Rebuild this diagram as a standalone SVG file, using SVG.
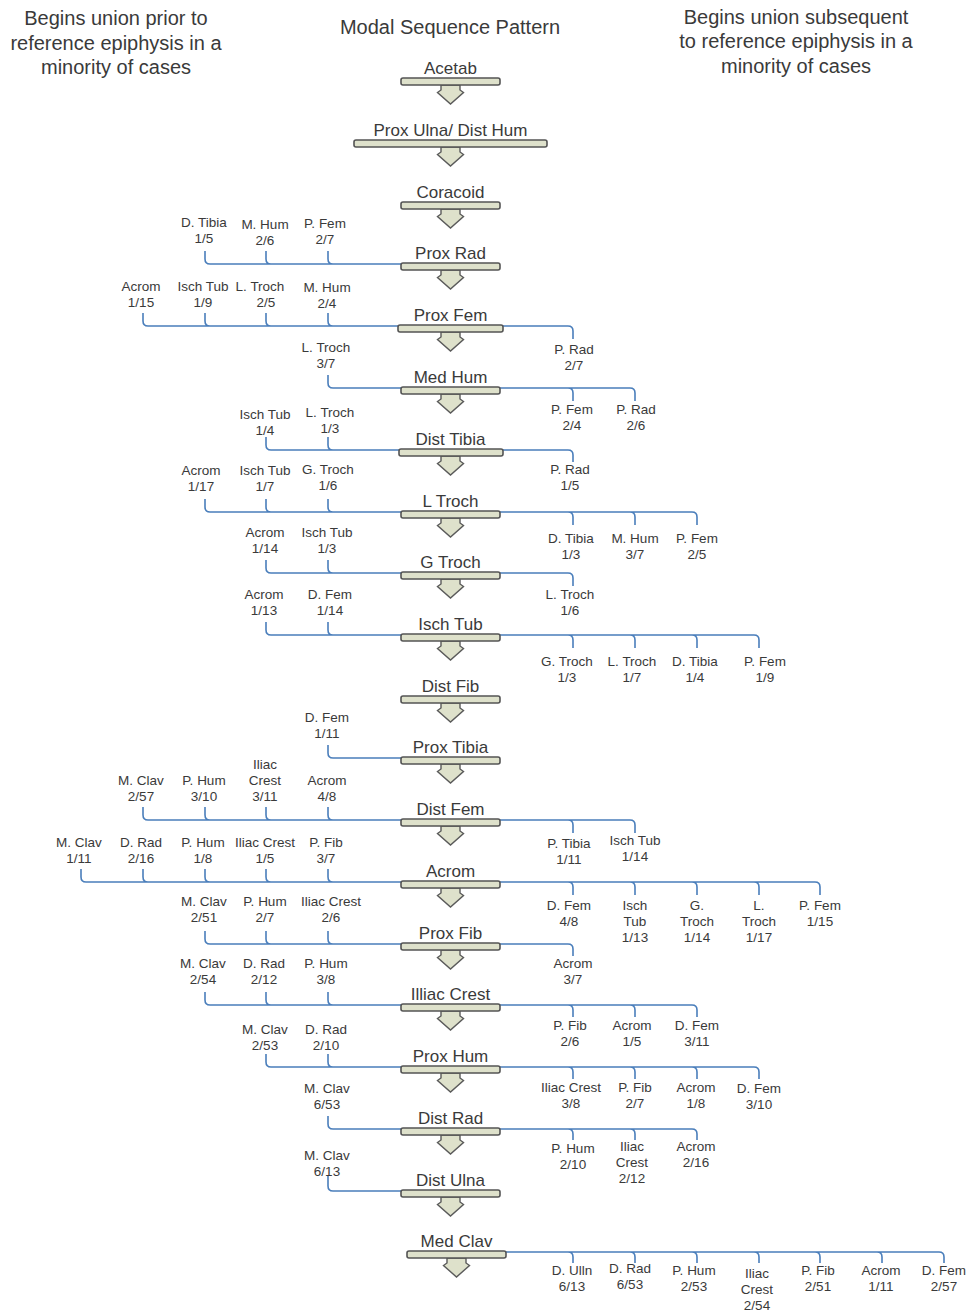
<svg xmlns="http://www.w3.org/2000/svg" xmlns:xlink="http://www.w3.org/1999/xlink" width="968" height="1313" viewBox="0 0 968 1313">
<style>
text{font-family:"Liberation Sans",Arial,sans-serif;fill:#3a3a3a;text-anchor:middle}
.hd{font-size:20px}
.nl{font-size:17px}
.lb{font-size:13.5px}
.bar{fill:#dee1cb;stroke:#545454;stroke-width:1.6}
.arr{fill:#dee1cb;stroke:#5a5a5a;stroke-width:1.4;stroke-linejoin:miter}
.cn path{fill:none;stroke:#4a7ebb;stroke-width:1.6}
</style>
<defs>
<path id="arr" class="arr" d="M-9.5,7 V12 L-13,14.5 L0,26 L13,14.5 L9.5,12 V7 Z"/>
</defs>
<rect width="968" height="1313" fill="#fff"/>
<g id="headers">
<text class="hd" x="116" y="25">Begins union prior to<tspan x="116" dy="25">reference epiphysis in a</tspan><tspan x="116" dy="24">minority of cases</tspan></text>
<text class="hd" x="450" y="34">Modal Sequence Pattern</text>
<text class="hd" x="796" y="24">Begins union subsequent<tspan x="796" dy="24">to reference epiphysis in a</tspan><tspan x="796" dy="25">minority of cases</tspan></text>
</g>
<g id="connectors" class="cn">
<path d="M205,251V259Q205,264 210,264H401M266,251V259Q266,264 271,264M328,251V259Q328,264 333,264"/>
<path d="M143,313V321Q143,326 148,326H398M205,313V321Q205,326 210,326M266,313V321Q266,326 271,326M328,313V321Q328,326 333,326M503,326H568Q573,326 573,331V339"/>
<path d="M328,375V383Q328,388 333,388H401M500,388H630Q635,388 635,393V401M568,388Q573,388 573,393V401"/>
<path d="M266,437V445Q266,450 271,450H399M328,437V445Q328,450 333,450M503,450H568Q573,450 573,455V462"/>
<path d="M205,499V507Q205,512 210,512H401M266,499V507Q266,512 271,512M328,499V507Q328,512 333,512M500,512H692Q697,512 697,517V525M568,512Q573,512 573,517V525M630,512Q635,512 635,517V525"/>
<path d="M266,560V568Q266,573 271,573H401M328,560V568Q328,573 333,573M500,573H568Q573,573 573,578V586"/>
<path d="M266,622V630Q266,635 271,635H401M328,622V630Q328,635 333,635M500,635H754Q759,635 759,640V648M568,635Q573,635 573,640V648M630,635Q635,635 635,640V648M692,635Q697,635 697,640V648"/>
<path d="M328,745V753Q328,758 333,758H401"/>
<path d="M143,807V815Q143,820 148,820H401M205,807V815Q205,820 210,820M266,807V815Q266,820 271,820M328,807V815Q328,820 333,820M500,820H630Q635,820 635,825V833M568,820Q573,820 573,825V833"/>
<path d="M81,869V877Q81,882 86,882H401M143,869V877Q143,882 148,882M205,869V877Q205,882 210,882M266,869V877Q266,882 271,882M328,869V877Q328,882 333,882M500,882H815Q820,882 820,887V895M568,882Q573,882 573,887V895M630,882Q635,882 635,887V895M692,882Q697,882 697,887V895M754,882Q759,882 759,887V895"/>
<path d="M205,931V939Q205,944 210,944H401M266,931V939Q266,944 271,944M328,931V939Q328,944 333,944M500,944H568Q573,944 573,949V956"/>
<path d="M205,992V1000Q205,1005 210,1005H401M266,992V1000Q266,1005 271,1005M328,992V1000Q328,1005 333,1005M500,1005H692Q697,1005 697,1010V1017M568,1005Q573,1005 573,1010V1017M630,1005Q635,1005 635,1010V1017"/>
<path d="M266,1054V1062Q266,1067 271,1067H401M328,1054V1062Q328,1067 333,1067M500,1067H754Q759,1067 759,1072V1079M568,1067Q573,1067 573,1072V1079M630,1067Q635,1067 635,1072V1079M692,1067Q697,1067 697,1072V1079"/>
<path d="M328,1116V1124Q328,1129 333,1129H401M500,1129H692Q697,1129 697,1134V1140M568,1129Q573,1129 573,1134V1140M630,1129Q635,1129 635,1134V1140"/>
<path d="M328,1176V1186Q328,1191 333,1191H401"/>
<path d="M506,1252H939Q944,1252 944,1257V1263M568,1252Q573,1252 573,1257V1263M630,1252Q635,1252 635,1257V1263M692,1252Q697,1252 697,1257V1263M754,1252Q759,1252 759,1257V1263M815,1252Q820,1252 820,1257V1263M877,1252Q882,1252 882,1257V1263"/>
</g>
<g id="tick-labels" class="lb">
<text class="lb" x="204" y="227">D. Tibia<tspan x="204" dy="16">1/5</tspan></text>
<text class="lb" x="265" y="229">M. Hum<tspan x="265" dy="16">2/6</tspan></text>
<text class="lb" x="325" y="228">P. Fem<tspan x="325" dy="16">2/7</tspan></text>

<text class="lb" x="141" y="291">Acrom<tspan x="141" dy="16">1/15</tspan></text>
<text class="lb" x="203" y="291">Isch Tub<tspan x="203" dy="16">1/9</tspan></text>
<text class="lb" x="260" y="291">L. Troch<tspan x="266" dy="16">2/5</tspan></text>
<text class="lb" x="327" y="292">M. Hum<tspan x="327" dy="16">2/4</tspan></text>
<text class="lb" x="574" y="354">P. Rad<tspan x="574" dy="16">2/7</tspan></text>

<text class="lb" x="326" y="352">L. Troch<tspan x="326" dy="16">3/7</tspan></text>
<text class="lb" x="572" y="414">P. Fem<tspan x="572" dy="16">2/4</tspan></text>
<text class="lb" x="636" y="414">P. Rad<tspan x="636" dy="16">2/6</tspan></text>

<text class="lb" x="265" y="419">Isch Tub<tspan x="265" dy="16">1/4</tspan></text>
<text class="lb" x="330" y="417">L. Troch<tspan x="330" dy="16">1/3</tspan></text>
<text class="lb" x="570" y="474">P. Rad<tspan x="570" dy="16">1/5</tspan></text>

<text class="lb" x="201" y="475">Acrom<tspan x="201" dy="16">1/17</tspan></text>
<text class="lb" x="265" y="475">Isch Tub<tspan x="265" dy="16">1/7</tspan></text>
<text class="lb" x="328" y="474">G. Troch<tspan x="328" dy="16">1/6</tspan></text>
<text class="lb" x="571" y="543">D. Tibia<tspan x="571" dy="16">1/3</tspan></text>
<text class="lb" x="635" y="543">M. Hum<tspan x="635" dy="16">3/7</tspan></text>
<text class="lb" x="697" y="543">P. Fem<tspan x="697" dy="16">2/5</tspan></text>

<text class="lb" x="265" y="537">Acrom<tspan x="265" dy="16">1/14</tspan></text>
<text class="lb" x="327" y="537">Isch Tub<tspan x="327" dy="16">1/3</tspan></text>
<text class="lb" x="570" y="599">L. Troch<tspan x="570" dy="16">1/6</tspan></text>

<text class="lb" x="264" y="599">Acrom<tspan x="264" dy="16">1/13</tspan></text>
<text class="lb" x="330" y="599">D. Fem<tspan x="330" dy="16">1/14</tspan></text>
<text class="lb" x="567" y="666">G. Troch<tspan x="567" dy="16">1/3</tspan></text>
<text class="lb" x="632" y="666">L. Troch<tspan x="632" dy="16">1/7</tspan></text>
<text class="lb" x="695" y="666">D. Tibia<tspan x="695" dy="16">1/4</tspan></text>
<text class="lb" x="765" y="666">P. Fem<tspan x="765" dy="16">1/9</tspan></text>

<text class="lb" x="327" y="722">D. Fem<tspan x="327" dy="16">1/11</tspan></text>

<text class="lb" x="141" y="785">M. Clav<tspan x="141" dy="16">2/57</tspan></text>
<text class="lb" x="204" y="785">P. Hum<tspan x="204" dy="16">3/10</tspan></text>
<text class="lb" x="265" y="769">Iliac<tspan x="265" dy="16">Crest</tspan><tspan x="265" dy="16">3/11</tspan></text>
<text class="lb" x="327" y="785">Acrom<tspan x="327" dy="16">4/8</tspan></text>
<text class="lb" x="569" y="848">P. Tibia<tspan x="569" dy="16">1/11</tspan></text>
<text class="lb" x="635" y="845">Isch Tub<tspan x="635" dy="16">1/14</tspan></text>

<text class="lb" x="79" y="847">M. Clav<tspan x="79" dy="16">1/11</tspan></text>
<text class="lb" x="141" y="847">D. Rad<tspan x="141" dy="16">2/16</tspan></text>
<text class="lb" x="203" y="847">P. Hum<tspan x="203" dy="16">1/8</tspan></text>
<text class="lb" x="265" y="847">Iliac Crest<tspan x="265" dy="16">1/5</tspan></text>
<text class="lb" x="326" y="847">P. Fib<tspan x="326" dy="16">3/7</tspan></text>
<text class="lb" x="569" y="910">D. Fem<tspan x="569" dy="16">4/8</tspan></text>
<text class="lb" x="635" y="910">Isch<tspan x="635" dy="16">Tub</tspan><tspan x="635" dy="16">1/13</tspan></text>
<text class="lb" x="697" y="910">G.<tspan x="697" dy="16">Troch</tspan><tspan x="697" dy="16">1/14</tspan></text>
<text class="lb" x="759" y="910">L.<tspan x="759" dy="16">Troch</tspan><tspan x="759" dy="16">1/17</tspan></text>
<text class="lb" x="820" y="910">P. Fem<tspan x="820" dy="16">1/15</tspan></text>

<text class="lb" x="204" y="906">M. Clav<tspan x="204" dy="16">2/51</tspan></text>
<text class="lb" x="265" y="906">P. Hum<tspan x="265" dy="16">2/7</tspan></text>
<text class="lb" x="331" y="906">Iliac Crest<tspan x="331" dy="16">2/6</tspan></text>
<text class="lb" x="573" y="968">Acrom<tspan x="573" dy="16">3/7</tspan></text>

<text class="lb" x="203" y="968">M. Clav<tspan x="203" dy="16">2/54</tspan></text>
<text class="lb" x="264" y="968">D. Rad<tspan x="264" dy="16">2/12</tspan></text>
<text class="lb" x="326" y="968">P. Hum<tspan x="326" dy="16">3/8</tspan></text>
<text class="lb" x="570" y="1030">P. Fib<tspan x="570" dy="16">2/6</tspan></text>
<text class="lb" x="632" y="1030">Acrom<tspan x="632" dy="16">1/5</tspan></text>
<text class="lb" x="697" y="1030">D. Fem<tspan x="697" dy="16">3/11</tspan></text>

<text class="lb" x="265" y="1034">M. Clav<tspan x="265" dy="16">2/53</tspan></text>
<text class="lb" x="326" y="1034">D. Rad<tspan x="326" dy="16">2/10</tspan></text>
<text class="lb" x="571" y="1092">Iliac Crest<tspan x="571" dy="16">3/8</tspan></text>
<text class="lb" x="635" y="1092">P. Fib<tspan x="635" dy="16">2/7</tspan></text>
<text class="lb" x="696" y="1092">Acrom<tspan x="696" dy="16">1/8</tspan></text>
<text class="lb" x="759" y="1093">D. Fem<tspan x="759" dy="16">3/10</tspan></text>

<text class="lb" x="327" y="1093">M. Clav<tspan x="327" dy="16">6/53</tspan></text>
<text class="lb" x="573" y="1153">P. Hum<tspan x="573" dy="16">2/10</tspan></text>
<text class="lb" x="632" y="1151">Iliac<tspan x="632" dy="16">Crest</tspan><tspan x="632" dy="16">2/12</tspan></text>
<text class="lb" x="696" y="1151">Acrom<tspan x="696" dy="16">2/16</tspan></text>

<text class="lb" x="327" y="1160">M. Clav<tspan x="327" dy="16">6/13</tspan></text>

<text class="lb" x="572" y="1275">D. Ulln<tspan x="572" dy="16">6/13</tspan></text>
<text class="lb" x="630" y="1273">D. Rad<tspan x="630" dy="16">6/53</tspan></text>
<text class="lb" x="694" y="1275">P. Hum<tspan x="694" dy="16">2/53</tspan></text>
<text class="lb" x="757" y="1278">Iliac<tspan x="757" dy="16">Crest</tspan><tspan x="757" dy="16">2/54</tspan></text>
<text class="lb" x="818" y="1275">P. Fib<tspan x="818" dy="16">2/51</tspan></text>
<text class="lb" x="881" y="1275">Acrom<tspan x="881" dy="16">1/11</tspan></text>
<text class="lb" x="944" y="1275">D. Fem<tspan x="944" dy="16">2/57</tspan></text>
</g>
<g id="n-acetab"><use xlink:href="#arr" x="450.5" y="78"/><rect class="bar" x="401" y="78" width="99" height="7" rx="2"/><text class="nl" x="450.5" y="74">Acetab</text></g>
<g id="n-prox-ulna-dist-hum"><use xlink:href="#arr" x="450.5" y="140"/><rect class="bar" x="354" y="140" width="193" height="7" rx="2"/><text class="nl" x="450.5" y="136">Prox Ulna/ Dist Hum</text></g>
<g id="n-coracoid"><use xlink:href="#arr" x="450.5" y="202"/><rect class="bar" x="401" y="202" width="99" height="7" rx="2"/><text class="nl" x="450.5" y="198">Coracoid</text></g>
<g id="n-prox-rad"><use xlink:href="#arr" x="450.5" y="263"/><rect class="bar" x="401" y="263" width="99" height="7" rx="2"/><text class="nl" x="450.5" y="259">Prox Rad</text></g>
<g id="n-prox-fem"><use xlink:href="#arr" x="450.5" y="325"/><rect class="bar" x="398" y="325" width="105" height="7" rx="2"/><text class="nl" x="450.5" y="321">Prox Fem</text></g>
<g id="n-med-hum"><use xlink:href="#arr" x="450.5" y="387"/><rect class="bar" x="401" y="387" width="99" height="7" rx="2"/><text class="nl" x="450.5" y="383">Med Hum</text></g>
<g id="n-dist-tibia"><use xlink:href="#arr" x="450.5" y="449"/><rect class="bar" x="399" y="449" width="104" height="7" rx="2"/><text class="nl" x="450.5" y="445">Dist Tibia</text></g>
<g id="n-l-troch"><use xlink:href="#arr" x="450.5" y="511"/><rect class="bar" x="401" y="511" width="99" height="7" rx="2"/><text class="nl" x="450.5" y="507">L Troch</text></g>
<g id="n-g-troch"><use xlink:href="#arr" x="450.5" y="572"/><rect class="bar" x="401" y="572" width="99" height="7" rx="2"/><text class="nl" x="450.5" y="568">G Troch</text></g>
<g id="n-isch-tub"><use xlink:href="#arr" x="450.5" y="634"/><rect class="bar" x="401" y="634" width="99" height="7" rx="2"/><text class="nl" x="450.5" y="630">Isch Tub</text></g>
<g id="n-dist-fib"><use xlink:href="#arr" x="450.5" y="696"/><rect class="bar" x="401" y="696" width="99" height="7" rx="2"/><text class="nl" x="450.5" y="692">Dist Fib</text></g>
<g id="n-prox-tibia"><use xlink:href="#arr" x="450.5" y="757"/><rect class="bar" x="401" y="757" width="99" height="7" rx="2"/><text class="nl" x="450.5" y="753">Prox Tibia</text></g>
<g id="n-dist-fem"><use xlink:href="#arr" x="450.5" y="819"/><rect class="bar" x="401" y="819" width="99" height="7" rx="2"/><text class="nl" x="450.5" y="815">Dist Fem</text></g>
<g id="n-acrom"><use xlink:href="#arr" x="450.5" y="881"/><rect class="bar" x="401" y="881" width="99" height="7" rx="2"/><text class="nl" x="450.5" y="877">Acrom</text></g>
<g id="n-prox-fib"><use xlink:href="#arr" x="450.5" y="943"/><rect class="bar" x="401" y="943" width="99" height="7" rx="2"/><text class="nl" x="450.5" y="939">Prox Fib</text></g>
<g id="n-illiac-crest"><use xlink:href="#arr" x="450.5" y="1004"/><rect class="bar" x="401" y="1004" width="99" height="7" rx="2"/><text class="nl" x="450.5" y="1000">Illiac Crest</text></g>
<g id="n-prox-hum"><use xlink:href="#arr" x="450.5" y="1066"/><rect class="bar" x="401" y="1066" width="99" height="7" rx="2"/><text class="nl" x="450.5" y="1062">Prox Hum</text></g>
<g id="n-dist-rad"><use xlink:href="#arr" x="450.5" y="1128"/><rect class="bar" x="401" y="1128" width="99" height="7" rx="2"/><text class="nl" x="450.5" y="1124">Dist Rad</text></g>
<g id="n-dist-ulna"><use xlink:href="#arr" x="450.5" y="1190"/><rect class="bar" x="401" y="1190" width="99" height="7" rx="2"/><text class="nl" x="450.5" y="1186">Dist Ulna</text></g>
<g id="n-med-clav"><use xlink:href="#arr" x="456.5" y="1251"/><rect class="bar" x="407" y="1251" width="99" height="7" rx="2"/><text class="nl" x="456.5" y="1247">Med Clav</text></g>
</svg>
